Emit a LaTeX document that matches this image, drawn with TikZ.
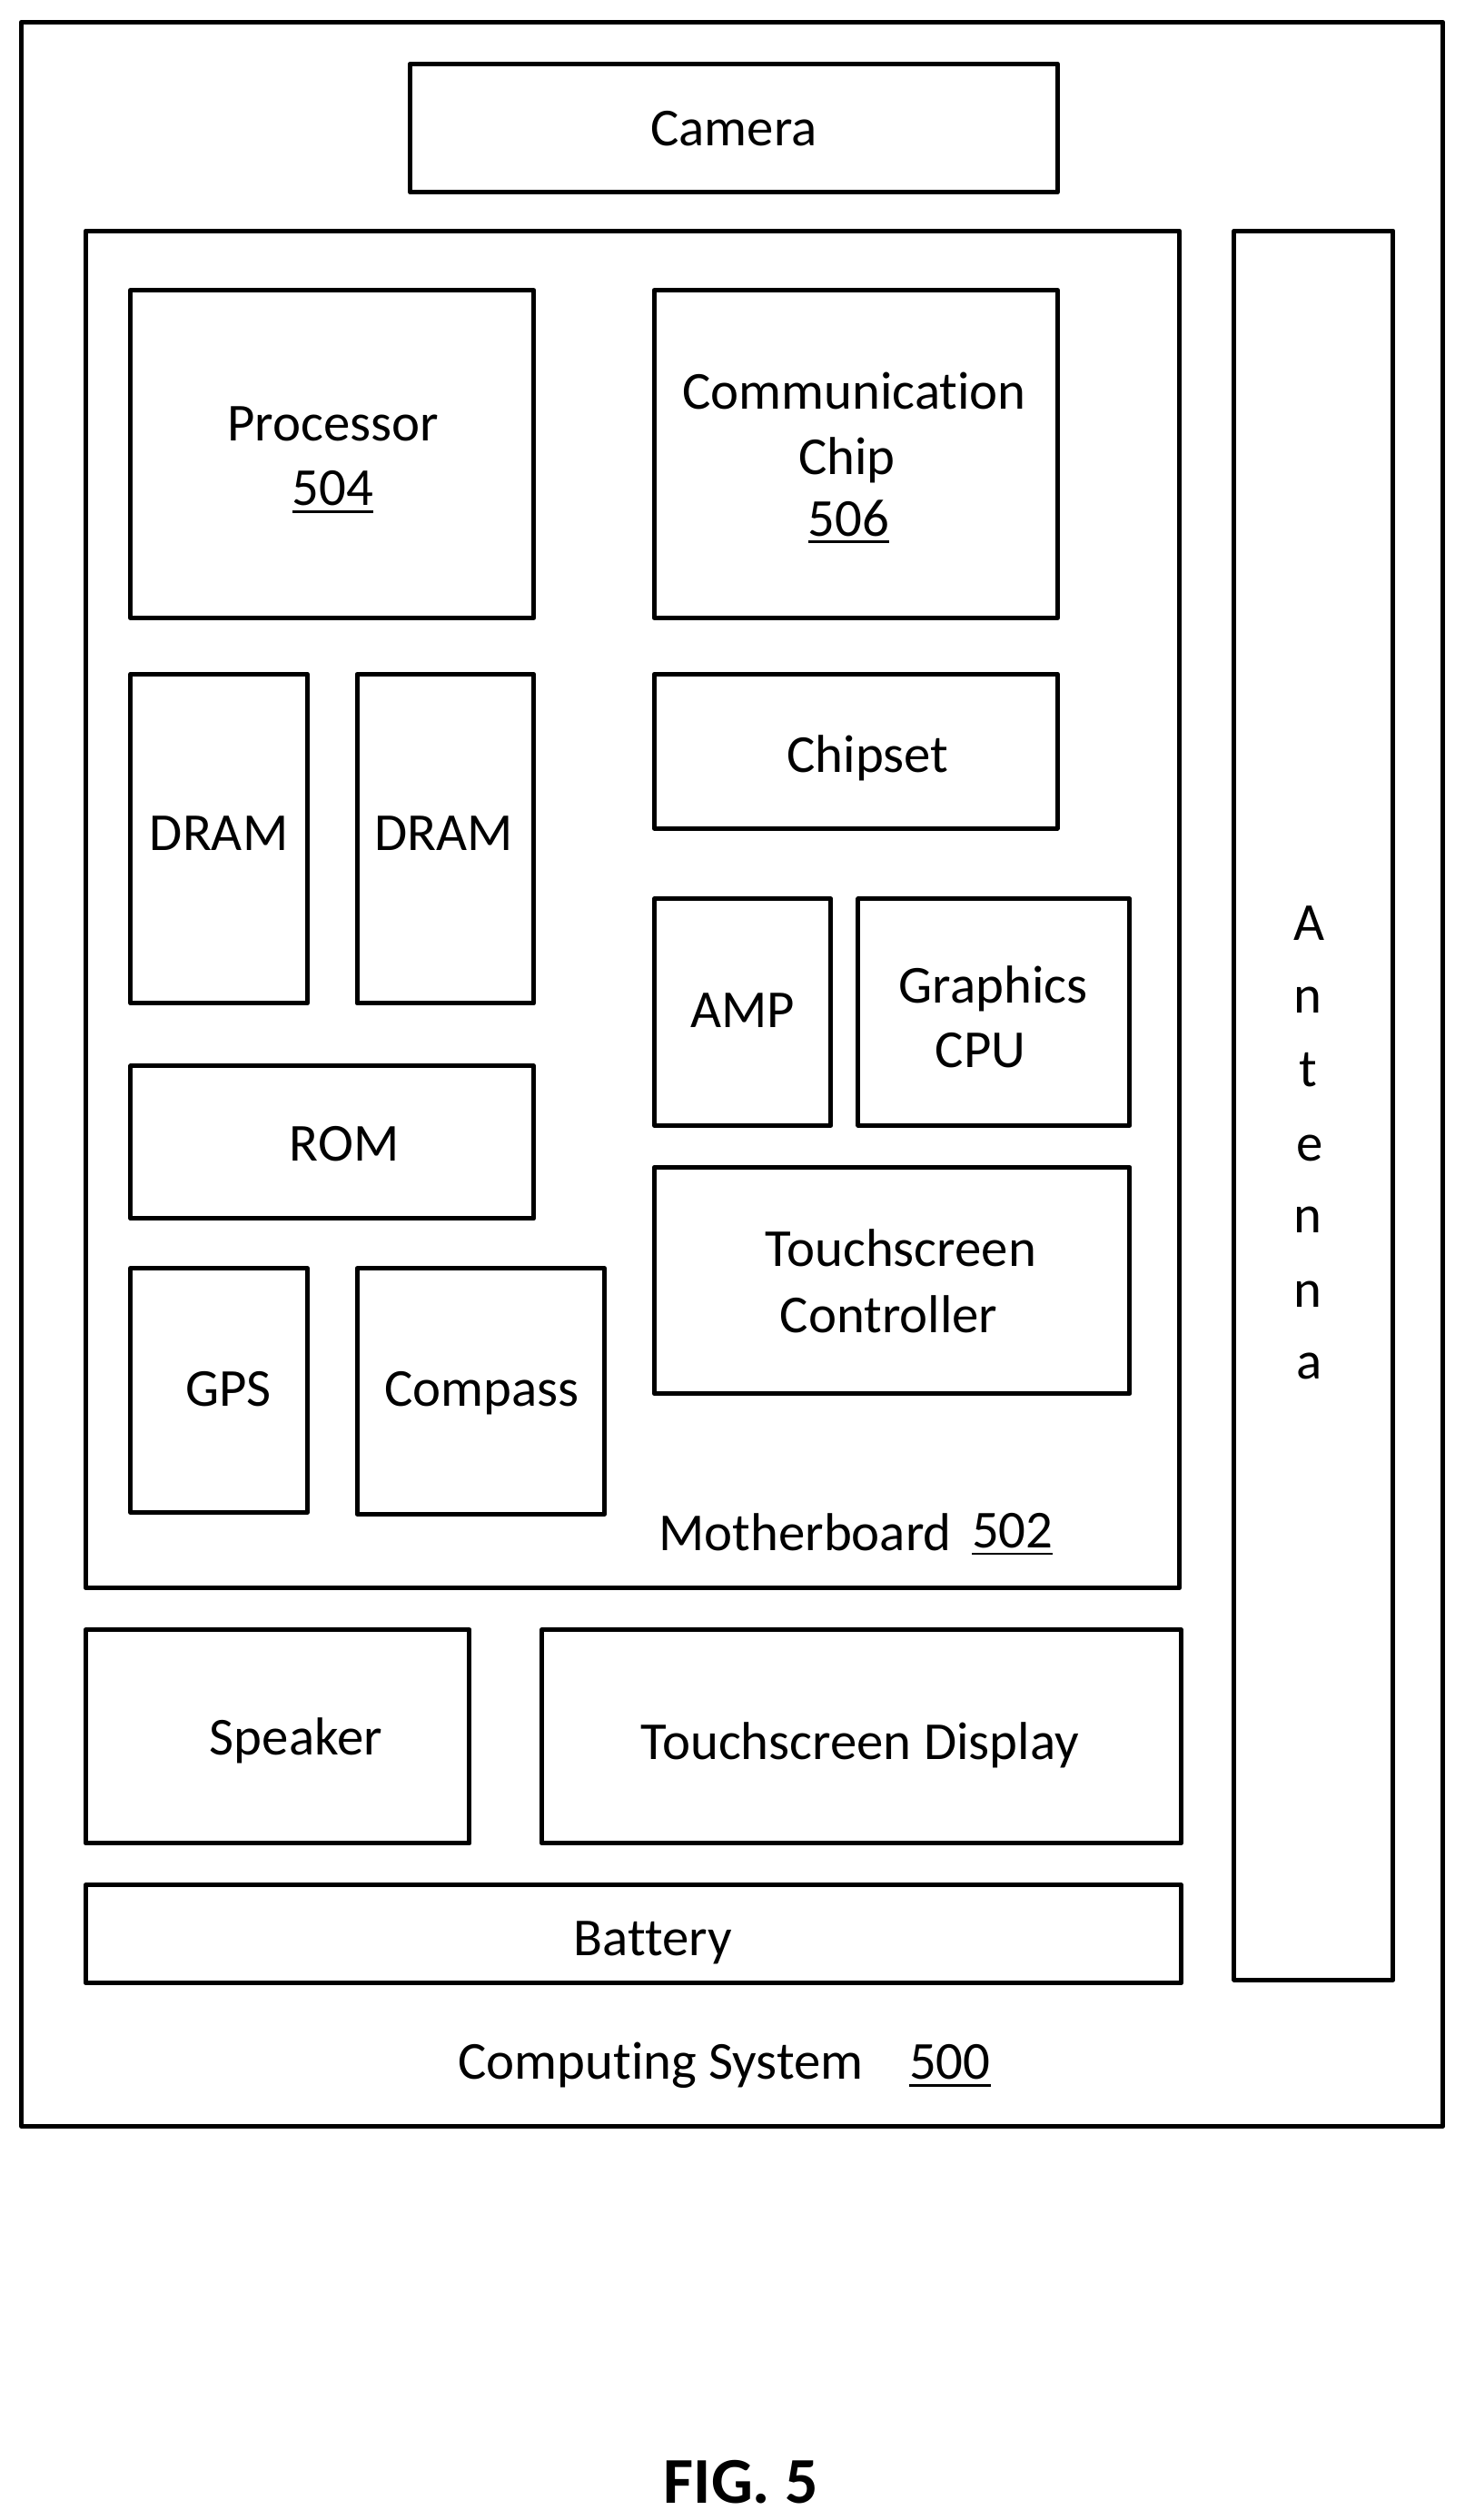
\documentclass[tikz,border=0pt]{standalone}
\usepackage{fontspec}
\setmainfont[Ligatures=NoCommon]{Carlito}
\usetikzlibrary{fit}
\tikzset{
  boxshape/.style={draw=black,line width=2.5pt,fill=none,inner sep=0pt,rectangle,line join=round},
  txt/.style={anchor=base,inner sep=0pt,font=\fontsize{29.4}{29.4}\selectfont,text=black},
  figlabel/.style={anchor=base,inner sep=0pt,font=\fontsize{36}{36}\selectfont\bfseries,text=black}
}
\newcommand{\bx}[5]{\node[boxshape,fit={(#2,#3)(#4,#5)}] (#1) {};}
\newcommand{\tx}[4]{\node[txt] (#1) at (#2,#3) {#4};}
\newsavebox{\ulbox}
\newcommand{\ul}[1]{\sbox{\ulbox}{#1}\rlap{\rule[-4pt]{\wd\ulbox}{1.4pt}}\usebox{\ulbox}}
\begin{document}
\begin{tikzpicture}[x=0.8843pt,y=-0.8843pt]
\useasboundingbox (0,0) rectangle (912,1569);
\begin{scope}[shift={(0.3,0.7)}]
\bx{outer}{13}{13}{898}{1323}
\bx{camera}{255}{39}{658}{119}
\bx{mother}{53}{143}{734}{988}
\bx{antenna}{768}{143}{867}{1232}
\bx{proc}{81}{180}{332}{384}
\bx{comm}{407}{180}{658}{384}
\bx{dramA}{81}{419}{191}{624}
\bx{dramB}{222}{419}{332}{624}
\bx{chipset}{407}{419}{658}{515}
\bx{amp}{407}{559}{517}{700}
\bx{graphics}{534}{559}{703}{700}
\bx{rom}{81}{663}{332}{758}
\bx{gps}{81}{789}{191}{941}
\bx{compass}{222}{789}{376}{942}
\bx{touchctl}{407}{726}{703}{867}
\bx{speaker}{53}{1014}{292}{1147}
\bx{display}{337}{1014}{735}{1147}
\bx{battery}{53}{1173}{735}{1234}
\tx{tcam}{456.5}{90}{Camera}
\tx{tproc}{207}{274}{Processor}
\tx{nproc}{207}{314}{\ul{504}}
\tx{tcommA}{531.5}{254}{Communication}
\tx{tcommB}{527}{295}{Chip}
\tx{ncomm}{528}{333}{\ul{506}}
\tx{tdramA}{136}{529}{DRAM}
\tx{tdramB}{276}{529}{DRAM}
\tx{tchip}{540}{480}{Chipset}
\tx{tamp}{462}{639}{AMP}
\tx{tgfxA}{618}{624}{Graphics}
\tx{tgfxB}{610}{664}{CPU}
\tx{trom}{214}{722}{ROM}
\tx{ttcA}{560.5}{788}{Touchscreen}
\tx{ttcB}{553}{829}{Controller}
\tx{tgps}{142}{875}{GPS}
\tx{tcompass}{299.5}{875}{Compass}
\tx{tmother}{501}{965}{Motherboard}
\tx{nmother}{630}{963}{\ul{502}}
\tx{tspk}{184}{1092}{Speaker}
\tx{tdisp}{535}{1095}{Touchscreen Display}
\tx{tbat}{406}{1217}{Battery}
\tx{tsys}{411}{1294}{Computing System}
\tx{nsys}{591}{1294}{\ul{500}}
\tx{antA}{815}{585}{A}
\tx{antB}{814}{630}{n}
\tx{antC}{814}{676}{t}
\tx{antD}{815}{722}{e}
\tx{antE}{814}{767}{n}
\tx{antF}{814}{813}{n}
\tx{antG}{815}{858}{a}
\node[figlabel] (fig) at (461,1558) {FIG. 5};
\end{scope}
\end{tikzpicture}
\end{document}
